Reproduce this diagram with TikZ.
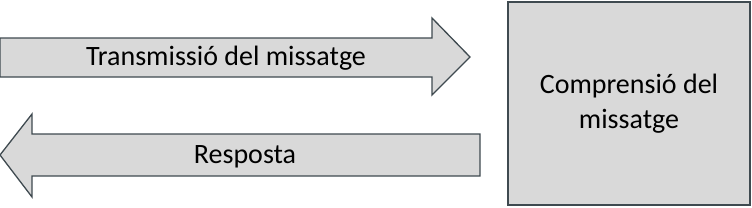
\documentclass[tikz,border=0pt]{standalone}
\usepackage{fontspec}
\setmainfont{Carlito}
\definecolor{fillg}{HTML}{D9D9D9}
\definecolor{edgeg}{HTML}{3F4A50}
\begin{document}
\begin{tikzpicture}[x=1pt,y=-1pt,
  shapestyle/.style={fill=fillg,draw=edgeg,line width=1.3pt,line join=miter},
  lbl/.style={font=\fontsize{28}{35}\selectfont,text=black,inner sep=0pt,align=center}]
\useasboundingbox (0,0) rectangle (752,207);
\draw[shapestyle] (0,38) -- (432,38) -- (432,18) -- (470,57) -- (432,95) -- (432,77) -- (0,77) -- cycle;
\draw[shapestyle] (480,134) -- (32,134) -- (32,114) -- (0,155) -- (32,197) -- (32,176) -- (480,176) -- cycle;
\draw[shapestyle] (508,2) rectangle (750,205);
\node[lbl] (t1) at (226,58) {Transmissió del missatge};
\node[lbl] (t2) at (245,157) {Resposta};
\node[lbl] (t3) at (629,104) {Comprensió del\\missatge};
\end{tikzpicture}
\end{document}
